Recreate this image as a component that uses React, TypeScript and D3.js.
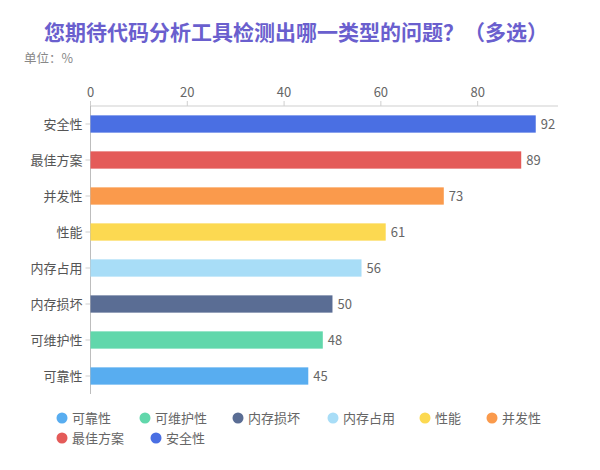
import * as d3 from 'd3'

// 类别（自上而下）
const categories = ['安全性', '最佳方案', '并发性', '性能', '内存占用', '内存损坏', '可维护性', '可靠性']
const values = [92, 89, 73, 61, 56, 50, 48, 45]
const colors = ['#4a6fe3', '#e45b59', '#fa9a4c', '#fcd951', '#a8ddf7', '#5a6d94', '#61d7ab', '#58adf0']
const xTicks = [0, 20, 40, 60, 80]
const legendOrder = ['可靠性', '可维护性', '内存损坏', '内存占用', '性能', '并发性', '最佳方案', '安全性']

const title = '您期待代码分析工具检测出哪一类型的问题？（多选）'
const unit = '单位：%'

const W = 600
const H = 470
const font = '"Noto Sans CJK SC", "Noto Sans", sans-serif'

export default function App() {
  const x = d3.scaleLinear().domain([0, 96.6]).range([90.5, 558])
  const y = d3.scaleBand<string>().domain(categories).range([106, 394]).paddingInner(0.52).paddingOuter(0.26)

  const legendRows = [legendOrder.slice(0, 6), legendOrder.slice(6)]
  const legendX = [[62, 145, 238, 333, 425, 492], [62, 156]]

  return (
    <svg width={W} height={H} style={{ position: 'absolute', left: 0, top: 0, background: '#fff' }} fontFamily={font}>
      <text x={296} y={40} textAnchor="middle" fontSize={21} fontWeight="bold" fill="#6a5fce">{title}</text>
      <text x={24} y={63} fontSize={12.5} fill="#888">{unit}</text>

      {/* top axis */}
      <line x1={x(0)} x2={558} y1={106} y2={106} stroke="#cfcfcf" />
      {xTicks.map(t => (
        <g key={t}>
          <line x1={x(t)} x2={x(t)} y1={101} y2={106} stroke="#cfcfcf" />
          <text x={x(t)} y={97} textAnchor="middle" fontSize={13} fill="#666">{t}</text>
        </g>
      ))}

      {/* left axis */}
      <line x1={x(0)} x2={x(0)} y1={106} y2={394} stroke="#bdbdbd" />
      {categories.map((c, i) => {
        const cy = (y(c) ?? 0) + y.bandwidth() / 2
        return (
          <g key={c}>
            <line x1={x(0) - 5} x2={x(0)} y1={cy} y2={cy} stroke="#cfcfcf" />
            <text x={x(0) - 8} y={cy} dy="0.35em" textAnchor="end" fontSize={13} fill="#555">{c}</text>
            <rect x={x(0)} y={y(c)} width={x(values[i]) - x(0)} height={y.bandwidth()} fill={colors[i]} />
            <text x={x(values[i]) + 5} y={cy} dy="0.35em" fontSize={13} fill="#666">{values[i]}</text>
          </g>
        )
      })}

      {/* legend */}
      {legendRows.map((row, r) =>
        row.map((name, j) => {
          const ci = categories.indexOf(name)
          const lx = legendX[r][j]
          const ly = 418 + r * 20
          return (
            <g key={name}>
              <circle cx={lx} cy={ly} r={5.5} fill={colors[ci]} />
              <text x={lx + 10} y={ly} dy="0.35em" fontSize={13} fill="#666">{name}</text>
            </g>
          )
        })
      )}
    </svg>
  )
}
